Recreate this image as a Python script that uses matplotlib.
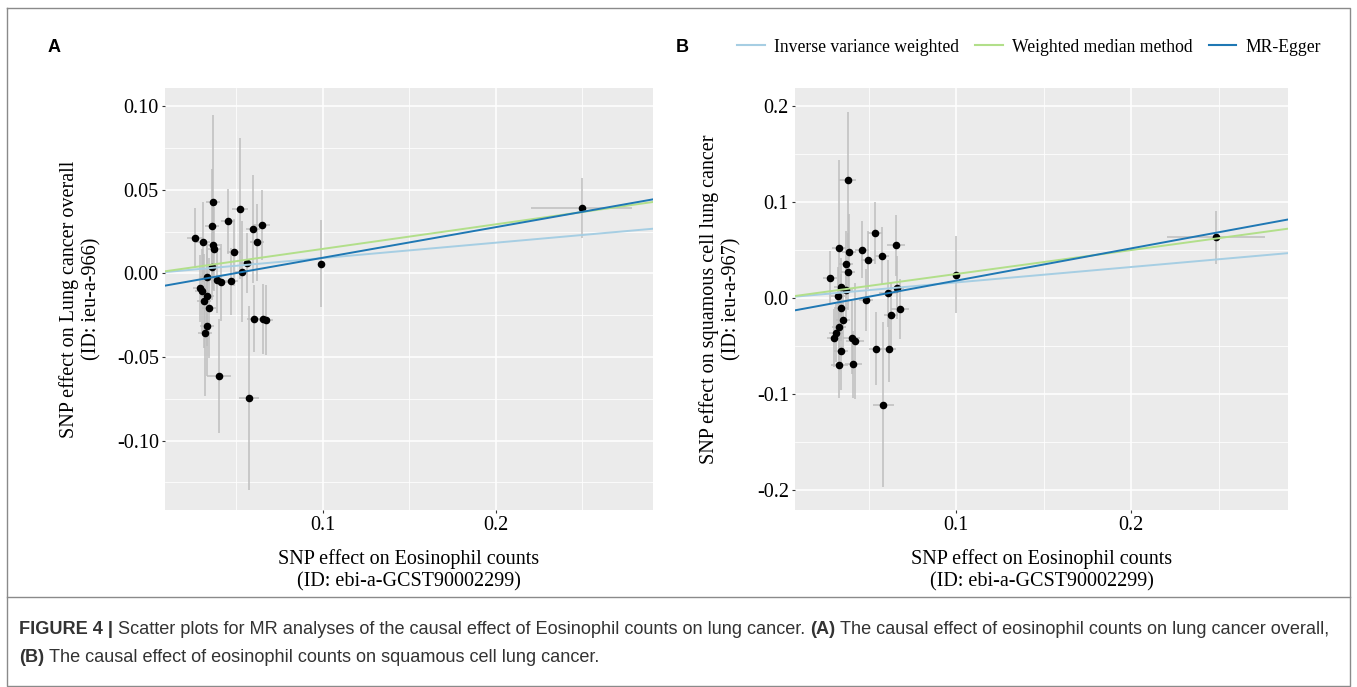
import numpy as np
import matplotlib
matplotlib.use("Agg")
import matplotlib.pyplot as plt
from matplotlib.lines import Line2D
from matplotlib import font_manager

plt.rcParams['font.family'] = ['Liberation Serif', 'DejaVu Serif']

# Panel A: SNP effects, exposure = eosinophil counts, outcome = lung cancer overall
a_bx = [0.026, 0.0308, 0.0366, 0.0358, 0.0366, 0.0372, 0.0358, 0.0328, 0.0451, 0.052,
        0.0487, 0.0562, 0.053, 0.0597, 0.0617, 0.0647, 0.0389, 0.0409, 0.0469, 0.0289,
        0.0302, 0.0328, 0.0314, 0.034, 0.0328, 0.0318, 0.0603, 0.0655, 0.0669, 0.0399,
        0.0571, 0.0992, 0.2497]
a_by = [0.0214, 0.019, 0.0426, 0.0283, 0.0172, 0.0147, 0.0041, -0.0019, 0.0313, 0.0388,
        0.0127, 0.0065, 0.0011, 0.0265, 0.0187, 0.0289, -0.0039, -0.0053, -0.0047, -0.0089,
        -0.0103, -0.0135, -0.0165, -0.0209, -0.0312, -0.0354, -0.0271, -0.0271, -0.0277, -0.0614,
        -0.0744, 0.0059, 0.0392]
a_bx_se = [0.0048, 0.004, 0.004, 0.004, 0.004, 0.004, 0.003, 0.004, 0.004, 0.0045,
           0.004, 0.004, 0.004, 0.004, 0.004, 0.005, 0.004, 0.004, 0.004, 0.004,
           0.004, 0.004, 0.004, 0.004, 0.004, 0.004, 0.004, 0.004, 0.004, 0.0067,
           0.0057, 0.002, 0.029]
a_by_se = [0.0175, 0.024, 0.052, 0.034, 0.027, 0.025, 0.02, 0.02, 0.0195, 0.042,
           0.02, 0.018, 0.03, 0.0325, 0.023, 0.021, 0.02, 0.023, 0.02, 0.02,
           0.025, 0.03, 0.028, 0.03, 0.03, 0.038, 0.02, 0.021, 0.021, 0.034,
           0.055, 0.026, 0.018]

# Panel B: outcome = squamous cell lung cancer
b_bx = [0.0277, 0.0328, 0.038, 0.0386, 0.0371, 0.038, 0.0341, 0.0371, 0.0324, 0.0463,
        0.0497, 0.0535, 0.0575, 0.0655, 0.0663, 0.061, 0.0486, 0.0678, 0.0629, 0.0341,
        0.0354, 0.0333, 0.0316, 0.0301, 0.0403, 0.0422, 0.0341, 0.0333, 0.0412, 0.0541,
        0.0614, 0.0584, 0.0998, 0.2484]
b_by = [0.0209, 0.0515, 0.1225, 0.0477, 0.0352, 0.0275, 0.0111, 0.0087, 0.0024, 0.0504,
        0.0397, 0.0675, 0.0435, 0.0546, 0.0108, 0.0049, -0.0021, -0.0118, -0.0181, -0.0104,
        -0.0226, -0.0299, -0.0365, -0.0418, -0.0414, -0.0449, -0.0557, -0.0703, -0.0692, -0.0532,
        -0.0532, -0.1114, 0.024, 0.063]
b_bx_se = [0.004, 0.004, 0.005, 0.004, 0.004, 0.004, 0.004, 0.004, 0.004, 0.004,
           0.004, 0.004, 0.004, 0.005, 0.004, 0.005, 0.004, 0.005, 0.004, 0.004,
           0.004, 0.004, 0.004, 0.004, 0.005, 0.005, 0.004, 0.005, 0.005, 0.004,
           0.004, 0.006, 0.002, 0.028]
b_by_se = [0.0275, 0.092, 0.071, 0.04, 0.035, 0.04, 0.03, 0.03, 0.03, 0.03,
           0.03, 0.032, 0.03, 0.032, 0.033, 0.035, 0.032, 0.031, 0.035, 0.035,
           0.035, 0.035, 0.03, 0.03, 0.038, 0.06, 0.04, 0.034, 0.035, 0.038,
           0.034, 0.086, 0.04, 0.0273]

# MR estimates (slope, intercept)
methods = ["Inverse variance weighted", "Weighted median method", "MR-Egger"]
colors = ["#A6CEE3", "#B2DF8A", "#1F78B4"]
a_slopes = [0.092, 0.147, 0.183]
a_intercepts = [0.0, 0.0, -0.0089]
b_slopes = [0.161, 0.249, 0.336]
b_intercepts = [0.0, 0.0, -0.0156]

fig = plt.figure(figsize=(13.57, 6.87), dpi=100)
W, H = 1357, 687


def px_axes(l, t, r, b):
    return fig.add_axes([l / W, 1 - b / H, (r - l) / W, (b - t) / H])


def mr_panel(ax, bx, by, bx_se, by_se, slopes, intercepts, xlim, ylim, yticks, ymin, ylab):
    ax.set_facecolor("#EBEBEB")
    bx, by = np.array(bx), np.array(by)
    ax.errorbar(bx, by, yerr=by_se, fmt="none", ecolor="#BEBEBE", elinewidth=1.1, zorder=2)
    ax.errorbar(bx, by, xerr=bx_se, fmt="none", ecolor="#BEBEBE", elinewidth=1.1, zorder=2)
    ax.scatter(bx, by, s=30, color="black", zorder=3, linewidths=0)
    xs = np.array(xlim)
    for s, i, c in zip(slopes, intercepts, colors):
        ax.plot(xs, i + s * xs, color=c, lw=1.4, zorder=4)
    ax.set_xlim(xlim)
    ax.set_ylim(ylim)
    ax.set_xticks([0.1, 0.2])
    ax.set_xticklabels(["0.1", "0.2"])
    ax.set_xticks([0.05, 0.15, 0.25], minor=True)
    ax.set_yticks(yticks)
    ax.set_yticks(ymin, minor=True)
    ax.grid(which="major", color="white", lw=1.1)
    ax.grid(which="minor", color="white", lw=0.55)
    ax.set_axisbelow(True)
    for sp in ax.spines.values():
        sp.set_visible(False)
    ax.tick_params(which="major", direction="out", length=2.5, width=0.8, color="#333333",
                   labelsize=14.5, pad=2)
    ax.tick_params(which="minor", length=0)
    ax.set_xlabel("SNP effect on Eosinophil counts\n(ID: ebi-a-GCST90002299)", fontsize=14.5,
                  labelpad=10, linespacing=1.2)
    ax.set_ylabel(ylab, fontsize=14.5, labelpad=11, linespacing=1.25)


axA = px_axes(165, 88, 653, 510)
mr_panel(axA, a_bx, a_by, a_bx_se, a_by_se, a_slopes, a_intercepts,
         (0.0087, 0.291), (-0.1416, 0.111),
         [-0.10, -0.05, 0.0, 0.05, 0.10], [-0.125, -0.075, -0.025, 0.025, 0.075],
         "SNP effect on Lung cancer overall\n(ID: ieu-a-966)")
axA.set_yticklabels(["-0.10", "-0.05", "0.00", "0.05", "0.10"])

axB = px_axes(795, 88, 1288, 510)
mr_panel(axB, b_bx, b_by, b_bx_se, b_by_se, b_slopes, b_intercepts,
         (0.0079, 0.2896), (-0.221, 0.2187),
         [-0.2, -0.1, 0.0, 0.1, 0.2], [-0.15, -0.05, 0.05, 0.15],
         "SNP effect on squamous cell lung cancer\n(ID: ieu-a-967)")
axB.set_yticklabels(["-0.2", "-0.1", "0.0", "0.1", "0.2"])

handles = [Line2D([], [], color=c, lw=1.5) for c in colors]
fig.legend(handles, methods, loc="center", bbox_to_anchor=(1029 / W, 1 - 47 / H), ncol=3,
           frameon=False, fontsize=12.7, handlelength=1.55, handletextpad=0.5,
           columnspacing=0.95, borderpad=0, borderaxespad=0)

# overlay for frame, panel letters and caption
ov = fig.add_axes([0, 0, 1, 1])
ov.set_xlim(0, W)
ov.set_ylim(H, 0)
ov.axis("off")
ov.patch.set_alpha(0)
ov.plot([7, 1350, 1350, 7, 7], [8, 8, 686, 686, 8], color="#8a8a8a", lw=1)
ov.plot([7, 1350], [597, 597], color="#8a8a8a", lw=1)
sans = ["Liberation Sans", "DejaVu Sans"]
ov.text(48, 47, "A", family=sans, weight="bold", fontsize=13, va="center", ha="left")
ov.text(676, 47, "B", family=sans, weight="bold", fontsize=13, va="center", ha="left")

names = {f.name for f in font_manager.fontManager.ttflist}
narrow = "Liberation Sans Narrow" in names
cap_font = ["Liberation Sans Narrow"] if narrow else sans
cap_size = 12.5 if narrow else 13.1
cap_col = "#333333"
line1 = [("FIGURE 4 |", "bold"),
         ("Scatter plots for MR analyses of the causal effect of Eosinophil counts on lung cancer.", "normal"),
         ("(A)", "bold"),
         ("The causal effect of eosinophil counts on lung cancer overall,", "normal")]
line2 = [("(B)", "bold"),
         ("The causal effect of eosinophil counts on squamous cell lung cancer.", "normal")]
for y0, parts in [(630, line1), (657, line2)]:
    prev = None
    for txt, wt in parts:
        if prev is None:
            prev = ov.text(19, y0, txt, family=cap_font, weight=wt, fontsize=cap_size,
                           color=cap_col, va="center", ha="left")
        else:
            prev = ov.annotate(txt, xy=(1, 0.5), xycoords=prev, xytext=(3.5, 0),
                               textcoords="offset points", family=cap_font, weight=wt,
                               fontsize=cap_size, color=cap_col, va="center", ha="left")

fig.savefig("out.png", dpi=100)
